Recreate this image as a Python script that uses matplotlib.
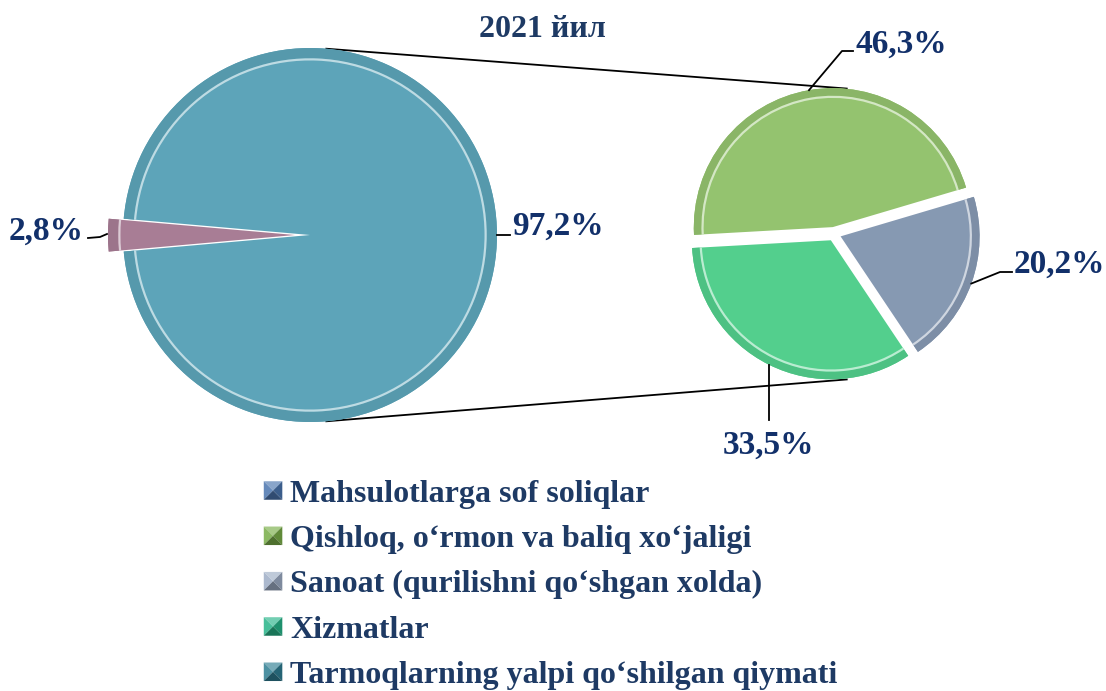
import matplotlib.pyplot as plt
from matplotlib.patches import Patch, Polygon
from matplotlib.legend_handler import HandlerBase
import numpy as np

# ma'lumotlar
title = "2021 йил"
left_vals = [2.8, 97.2]
left_labels = ["2,8%", "97,2%"]
left_colors = ["#A87D95", "#5DA4B9"]

right_vals = [46.3, 20.2, 33.5]
right_labels = ["46,3%", "20,2%", "33,5%"]
right_colors = ["#94C36F", "#8699B2", "#53CF8D"]

legend_names = ["Mahsulotlarga sof soliqlar",
                "Qishloq, o\u2018rmon va baliq xo\u2018jaligi",
                "Sanoat (qurilishni qo\u2018shgan xolda)",
                "Xizmatlar",
                "Tarmoqlarning yalpi qo\u2018shilgan qiymati"]
legend_colors = ["#4A74AE", "#78AD47", "#9DADC5", "#26B488", "#2E7D92"]

W, H = 1106, 691
TXT = "#12306A"
LEG_TXT = "#1E3A64"
FONT = "Liberation Serif"


def darker(c, f=0.8):
  r, g, b = plt.matplotlib.colors.to_rgb(c)
  return (r * f, g * f, b * f)


def lighter(c, f=0.45):
  r, g, b = plt.matplotlib.colors.to_rgb(c)
  return (r + (1 - r) * f, g + (1 - g) * f, b + (1 - b) * f)


# piramida ko'rinishidagi legend kvadrati
class PyramidHandler(HandlerBase):
  def create_artists(self, legend, orig, xd, yd, width, height, fontsize, trans):
    c = orig.get_facecolor()
    s = min(width, height)
    x0, y0 = -xd + (width - s) / 2, -yd + (height - s) / 2
    cx, cy = x0 + s / 2, y0 + s / 2
    tl, tr, br, bl = (x0, y0 + s), (x0 + s, y0 + s), (x0 + s, y0), (x0, y0)
    tris = [([tl, tr, (cx, cy)], lighter(c, 0.35)),
            ([tl, bl, (cx, cy)], lighter(c, 0.15)),
            ([tr, br, (cx, cy)], darker(c, 0.8)),
            ([bl, br, (cx, cy)], darker(c, 0.65))]
    out = []
    for pts, col in tris:
      p = Polygon(pts, closed=True, facecolor=col, edgecolor="none", transform=trans)
      out.append(p)
    return out


def draw_pie(ax, vals, colors, center, radius, explode, start, ccw):
  wedges, _ = ax.pie(vals, colors=colors, center=center, radius=radius,
                     explode=explode, startangle=start, counterclock=ccw,
                     wedgeprops=dict(linewidth=0))
  # bevel: tashqi halqa va yorug' chiziq
  ax.pie(vals, colors=[darker(c, 0.93) for c in colors], center=center,
         radius=radius, explode=explode, startangle=start, counterclock=ccw,
         wedgeprops=dict(width=radius * 0.055, linewidth=0))
  ax.pie(vals, colors=[lighter(c, 0.6) for c in colors], center=center,
         radius=radius * 0.945, explode=explode,
         startangle=start, counterclock=ccw,
         wedgeprops=dict(width=2.2, linewidth=0))
  return wedges


def main():
  fig = plt.figure(figsize=(W / 100, H / 100), dpi=100)
  ax = fig.add_axes([0, 0, 1, 1])

  lc, lr = (310, 456), 187
  rc, rr = (834, 457), 139

  lw = draw_pie(ax, left_vals, left_colors, lc, lr, [15, 0], 175, True)
  rw = draw_pie(ax, right_vals, right_colors, rc, rr, [7, 7, 7], 183.2, False)

  ax.set_xlim(0, W)
  ax.set_ylim(0, H)
  ax.set_aspect("equal")
  ax.axis("off")

  # bog'lovchi chiziqlar
  for a in (85, -85):
    t = np.deg2rad(a)
    x1, y1 = lc[0] + lr * np.cos(t), lc[1] + lr * np.sin(t)
    x2, y2 = rc[0] + (rr + 7) * np.cos(t), rc[1] + (rr + 7) * np.sin(t)
    ax.plot([x1, x2], [y1, y2], color="black", lw=1.3, zorder=0)

  tp = dict(fontfamily=FONT, fontweight="bold", color=TXT, fontsize=24)

  # chap pie yorliqlari
  ax.plot([88, 100, 107], [453, 454, 457], color="black", lw=1.3)
  ax.text(84, 460, left_labels[0], ha="right", va="center", **tp)
  ax.plot([lc[0] + lr, 510], [456, 456], color="black", lw=1.3)
  ax.text(512, 465, left_labels[1], ha="left", va="center", **tp)

  # o'ng pie yorliqlari
  def edge(w, r):
    t = np.deg2rad((w.theta1 + w.theta2) / 2)
    cx, cy = w.center
    return cx + r * np.cos(t), cy + r * np.sin(t)

  x, y = edge(rw[0], rr)
  ax.plot([x, 842, 853], [y, 640, 640], color="black", lw=1.3)
  ax.text(855, 647, right_labels[0], ha="left", va="center", **tp)
  x, y = edge(rw[1], rr)
  ax.plot([x, 1000, 1012], [y, 419, 419], color="black", lw=1.3)
  ax.text(1014, 427, right_labels[1], ha="left", va="center", **tp)
  x, y = edge(rw[2], rr)
  ax.plot([x, x], [y, 271], color="black", lw=1.3)
  ax.text(x, 246, right_labels[2], ha="center", va="center", **tp)

  ax.text(542, 662, title, ha="center", va="center", fontfamily=FONT,
          fontweight="bold", color=LEG_TXT, fontsize=23)

  handles = [Patch(facecolor=c) for c in legend_colors]
  fig.legend(handles, legend_names, loc="upper left", bbox_to_anchor=(251 / W, 1 - 467 / H),
             frameon=False, handlelength=0.58, handleheight=0.58, handletextpad=0.25,
             labelspacing=0.51, borderaxespad=0,
             handler_map={Patch: PyramidHandler()},
             prop=dict(family=FONT, weight="bold", size=23), labelcolor=LEG_TXT)

  fig.savefig("out.png", dpi=100)


if __name__ == "__main__":
  main()
